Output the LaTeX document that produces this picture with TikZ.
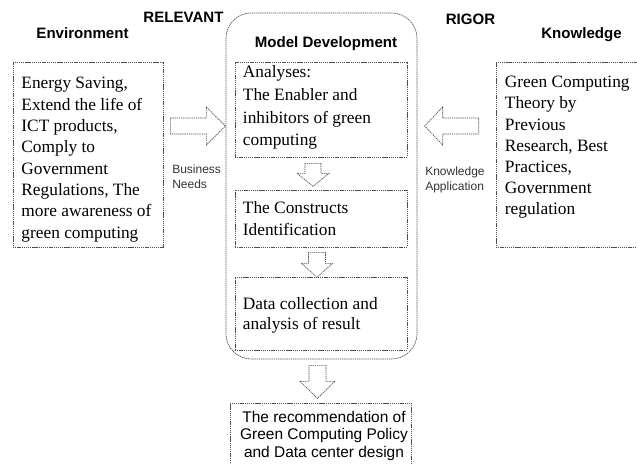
\documentclass[tikz,border=0pt]{standalone}
\usepackage{fontspec}
\setmainfont{Liberation Serif}
\setsansfont{Liberation Sans}
\usepackage{tikz}
\usetikzlibrary{fit,calc}

\tikzset{
    outline/.style={draw=black!70, line width=0.5pt, dash pattern=on 1pt off 0.6pt},
    box/.style={outline, rectangle, inner sep=0pt},
    heading/.style={font=\sffamily\bfseries\fontsize{11.3}{13.5}\selectfont, anchor=base, inner sep=0pt},
    flowlabel/.style={font=\sffamily\fontsize{9}{11.25}\selectfont, text=black!80, align=left, anchor=north west, inner sep=0pt},
    bodytext/.style={font=\fontsize{13}{16}\selectfont, align=left, anchor=north west, inner sep=0pt},
    % block arrow pointing along +x: length / head width / shaft width / head length
    pics/fatarrow/.style n args={4}{code={
        \draw[outline, fill=white] (0,{-#3/2}) -- ({#1-#4},{-#3/2}) -- ({#1-#4},{-#2/2})
            -- (#1,0) -- ({#1-#4},{#2/2}) -- ({#1-#4},{#3/2}) -- (0,{#3/2}) -- cycle;
    }}
}

\begin{document}
\begin{tikzpicture}[x=0.75pt, y=-0.75pt]
    \useasboundingbox (0,0) rectangle (637,464);

    % --- Headings ---
    \node[heading] (relevant) at (183.5,22) {RELEVANT};
    \node[heading] (environment) at (82.5,39) {Environment};
    \node[heading] (rigor) at (470.5,25) {RIGOR};
    \node[heading] (knowledge) at (581.5,39) {Knowledge};

    % --- Model development container ---
    \node[box, rounded corners=19pt, fit={(226,13) (417,359)}] (dev) {};
    \node[heading] (devtitle) at (326,47) {Model Development};

    % --- Environment and knowledge boxes ---
    \node[box, fit={(13,62) (163,247)}] (env) {};
    \node[bodytext] (envtxt) at ([shift={(8.5,15.5)}]env.north west)
        {Energy Saving,\\Extend the life of\\ICT products,\\Comply to\\Government\\Regulations, The\\more awareness of\\green computing};

    \node[box, fit={(496,62) (645,247)}] (know) {};
    \node[bodytext, font=\fontsize{13}{15.8}\selectfont] (knowtxt) at ([shift={(9,14.5)}]know.north west)
        {Green Computing\\Theory by\\Previous\\Research, Best\\Practices,\\Government\\regulation};

    % --- Steps inside the container ---
    \node[box, fit={(235,62) (407,157)}] (an) {};
    \node[bodytext, font=\fontsize{13}{17}\selectfont] (antxt) at ([shift={(8,4)}]an.north west)
        {Analyses:\\The Enabler and\\inhibitors of green\\computing};

    \node[box, fit={(235,190) (407,247)}] (cons) {};
    \node[bodytext, font=\fontsize{13}{15.8}\selectfont] (constxt) at ([shift={(8,12)}]cons.north west)
        {The Constructs\\Identification};

    \node[box, fit={(235,277) (407,350)}] (data) {};
    \node[bodytext, font=\fontsize{13}{15}\selectfont] (datatxt) at ([shift={(8,21)}]data.north west)
        {Data collection and\\analysis of result};

    % --- Outcome box (runs off the bottom) ---
    \node[box, fit={(230,403) (411,475)}] (rec) {};
    \node[font=\sffamily\fontsize{11.6}{13.1}\selectfont, align=center, anchor=north, inner sep=0pt]
        (rectxt) at (324,411) {The recommendation of\\Green Computing Policy\\and Data center design};

    % --- Block arrows ---
    \pic at ($(env.east)+(7,-28.5)$) {fatarrow={55}{38}{16}{19}};
    \pic[rotate=180] at ($(know.west)+(-17,-28.5)$) {fatarrow={54}{38}{16}{18}};
    \pic[rotate=-90] at ($(an.south)+(-8,6)$) {fatarrow={23}{32}{16}{13}};
    \pic[rotate=-90] at ($(cons.south)+(-4,5)$) {fatarrow={25}{31}{17}{14}};
    \pic[rotate=-90] at ($(dev.south)+(-4,6)$) {fatarrow={33}{35}{17}{17}};

    % --- Arrow labels ---
    \node[flowlabel] (bizneeds) at (172,164.5) {Business\\Needs};
    \node[flowlabel] (knowapp) at (425,166.5) {Knowledge\\Application};
\end{tikzpicture}
\end{document}
